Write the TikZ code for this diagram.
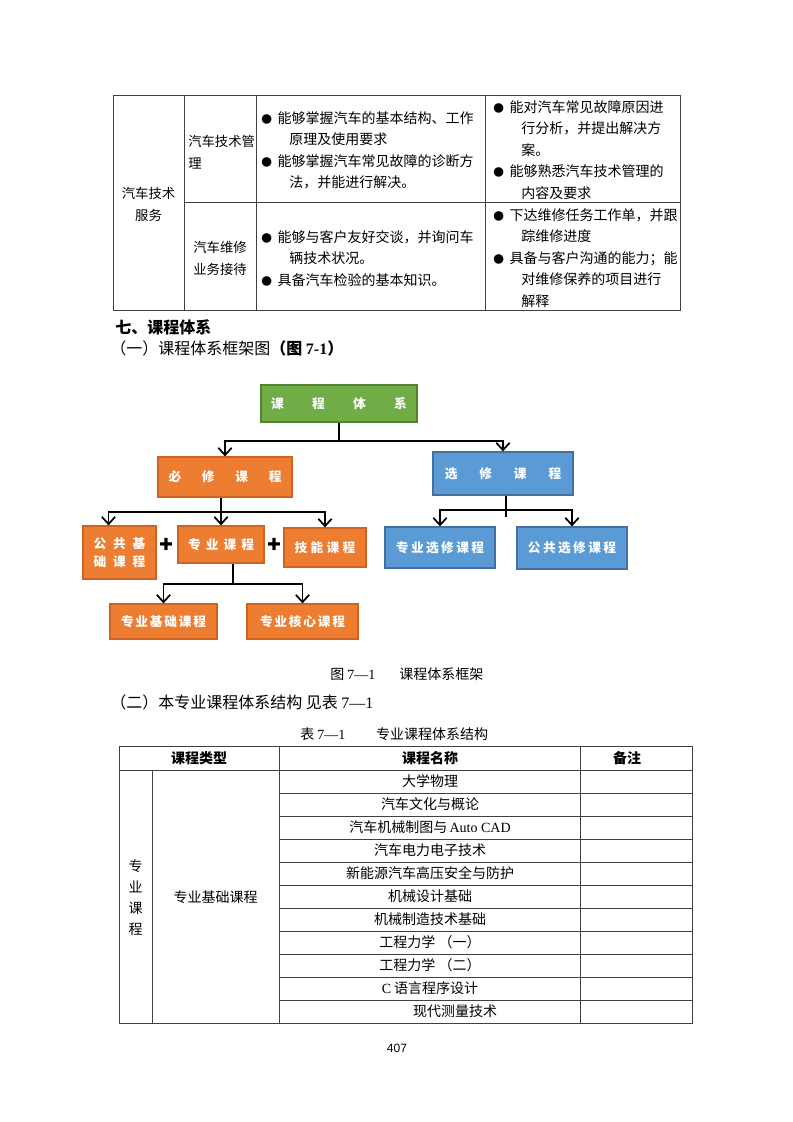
\documentclass[tikz,border=0pt]{standalone}
\usepackage{fontspec}
\setmainfont{Noto Sans CJK SC}
\newfontfamily\latinrm{Liberation Serif}
\newfontfamily\pagefont{Liberation Sans}
\newfontfamily\symfont{DejaVu Sans}
\usetikzlibrary{positioning,arrows.meta}
\definecolor{LeafGreen}{HTML}{70AD47}
\definecolor{LeafGreenEdge}{HTML}{548235}
\definecolor{Amber}{HTML}{ED7D31}
\definecolor{AmberEdge}{HTML}{D0621F}
\definecolor{SkyBlue}{HTML}{5B9BD5}
\definecolor{SkyBlueEdge}{HTML}{41719C}
\definecolor{RuleGray}{HTML}{404040}
\newcommand\fsten{\fontsize{10}{16.5}\selectfont}
\newcommand\wuhao{\fontsize{10.5}{16.2}\selectfont}
\newcommand\xiaosi{\fontsize{12}{16}\selectfont}
\newcommand\bulletmark{{\fontsize{8}{8}\selectfont ●}\hspace{4.3pt}}
\newcommand\wrapindent{\hspace*{21pt}}

\begin{document}
\begin{tikzpicture}[x=0.75pt,y=-0.75pt,
    rule/.style={draw=RuleGray,line width=0.7pt},
    cell/.style={inner sep=0pt,font=\wuhao},
    link/.style={line width=1.3pt},
    arr/.style={link,-{Straight Barb[length=5.5pt,width=10pt]}},
    sz/.style 2 args={minimum width={#1*0.75pt},minimum height={#2*0.75pt}},
    course/.style={draw=#1Edge,fill=#1,line width=0.9pt,text=white,inner sep=0pt},
    spread/.style={font=\fontsize{9.5}{13.5}\selectfont\bfseries\addfontfeature{LetterSpace=#1}}]
  \useasboundingbox[fill=white] (0,0) rectangle (793,1122);

  % table on top of the page
  \draw[rule] (113,95) rectangle (680,310);
  \draw[rule] (184,95) -- (184,310);
  \draw[rule] (256,95) -- (256,310);
  \draw[rule] (485,95) -- (485,310);
  \draw[rule] (184,202) -- (680,202);
  \node[cell,font=\fsten,align=center] (svc) at (148.5,204) {汽车技术\\服务};
  \node[cell,font=\fsten,align=left,anchor=west] (mgmt) at (188,152) {汽车技术管\\理};
  \node[cell,font=\fsten,align=center] (recv) at (220,258) {汽车维修\\业务接待};
  \node[cell,align=left,anchor=north west] (mgmtknow) at (261,111)
    {\bulletmark 能够掌握汽车的基本结构、工作\\\wrapindent 原理及使用要求\\\bulletmark 能够掌握汽车常见故障的诊断方\\\wrapindent 法，并能进行解决。};
  \node[cell,align=left,anchor=north west] (mgmtskill) at (493,100)
    {\bulletmark 能对汽车常见故障原因进\\\wrapindent 行分析，并提出解决方\\\wrapindent 案。\\\bulletmark 能够熟悉汽车技术管理的\\\wrapindent 内容及要求};
  \node[cell,align=left,anchor=north west] (recvknow) at (261,230)
    {\bulletmark 能够与客户友好交谈，并询问车\\\wrapindent 辆技术状况。\\\bulletmark 具备汽车检验的基本知识。};
  \node[cell,align=left,anchor=north west] (recvskill) at (493,208)
    {\bulletmark 下达维修任务工作单，并跟\\\wrapindent 踪维修进度\\\bulletmark 具备与客户沟通的能力；能\\\wrapindent 对维修保养的项目进行\\\wrapindent 解释};

  % headings
  \node[cell,anchor=west,font=\xiaosi\bfseries] (sec7) at (115,327) {七、课程体系};
  \node[cell,anchor=west,font=\xiaosi] (sub1) at (110,348) {（一）课程体系框架图{\bfseries（图 {\latinrm 7-1}）}};

  % framework chart
  \node[course=LeafGreen,sz={156}{37},spread=224] (sys) at (339,403.5) {课程体系};
  \node[course=Amber,sz={134}{40},spread=164] (bixiu) at (225,477) {必修课程};
  \node[course=SkyBlue,sz={140}{43},spread=173] (xuanxiu) at (503,473.5) {选修课程};
  \node[course=Amber,sz={73}{53},spread=54,align=center] (ggjc) at (119.5,552.5) {公共基\\础课程};
  \node[course=Amber,sz={86}{37},spread=40] (zykc) at (221,544.5) {专业课程};
  \node[course=Amber,sz={82}{39},spread=26] (jnkc) at (325,547.5) {技能课程};
  \node[course=Amber,sz={107}{35},spread=14] (zyjc) at (163.5,621.5) {专业基础课程};
  \node[course=Amber,sz={111}{35},spread=14] (zyhx) at (302.5,621.5) {专业核心课程};
  \node[course=SkyBlue,sz={110}{41},spread=19] (zyxx) at (440,547.5) {专业选修课程};
  \node[course=SkyBlue,sz={110}{42},spread=19] (ggxx) at (572,548) {公共选修课程};
  \node[inner sep=0pt,font=\symfont\fontsize{12.5}{12.5}\selectfont] (plus1) at (166,544) {✚};
  \node[inner sep=0pt,font=\symfont\fontsize{12.5}{12.5}\selectfont] (plus2) at (274,544) {✚};

  \coordinate (j1) at (339,441);
  \coordinate (j2) at (221,512);
  \coordinate (j3) at (233,584);
  \coordinate (j4) at (506,510);
  \draw[link] (sys.south) -- (j1);
  \draw[arr] (j1) -| (bixiu.north);
  \draw[arr] (j1) -| (xuanxiu.north);
  \draw[arr] (bixiu.south -| zykc.north) -- (zykc.north);
  \draw[arr] (j2) -| ([xshift=-8.25pt]ggjc.north);
  \draw[arr] (j2) -| (jnkc.north);
  \draw[link] (zykc.south -| j3) -- (j3);
  \draw[arr] (j3) -| (zyjc.north);
  \draw[arr] (j3) -| (zyhx.north);
  \draw[link] (xuanxiu.south -| j4) -- ++(0,21);
  \draw[arr] (j4) -| (zyxx.north);
  \draw[arr] (j4) -| (ggxx.north);

  % captions
  \node[cell,anchor=west] (figcap) at (330,674) {图 {\latinrm 7—1}\hspace{18pt}课程体系框架};
  \node[cell,anchor=west,font=\xiaosi] (sub2) at (110,702) {（二）本专业课程体系结构 见表 {\latinrm 7—1}};
  \node[cell,anchor=west] (tabcap) at (300,734) {表 {\latinrm 7—1}\hspace{23pt}专业课程体系结构};

  % course table
  \draw[rule] (119,746) rectangle (692,1023);
  \draw[rule] (119,770) -- (692,770);
  \draw[rule] (152,770) -- (152,1023);
  \draw[rule] (279,746) -- (279,1023);
  \draw[rule] (580,746) -- (580,1023);
  \foreach \k in {1,...,10} \draw[rule] (279,{770+23*\k}) -- (692,{770+23*\k});
  \node[cell,font=\wuhao\bfseries] (hdtype) at (199,758) {课程类型};
  \node[cell,font=\wuhao\bfseries] (hdname) at (430,758) {课程名称};
  \node[cell,font=\wuhao\bfseries] (hdnote) at (627,758) {备注};
  \node[cell,align=center,font=\fontsize{10.5}{15.75}\selectfont] (major) at (135.5,897.5) {专\\业\\课\\程};
  \node[cell] (basic) at (215.5,897) {专业基础课程};
  \foreach \name [count=\i from 0] in {大学物理,汽车文化与概论,汽车机械制图与{\latinrm\,Auto CAD},汽车电力电子技术,新能源汽车高压安全与防护,机械设计基础,机械制造技术基础,工程力学 （一）,工程力学 （二）,{\latinrm C} 语言程序设计}
    \node[cell] (crs\i) at (430,{781.5+23*\i}) {\name};
  \node[cell] (crs10) at (455,1011.5) {现代测量技术};

  \node[cell,font=\pagefont\fontsize{9}{9}\selectfont] (pg) at (397,1048) {407};
\end{tikzpicture}
\end{document}
